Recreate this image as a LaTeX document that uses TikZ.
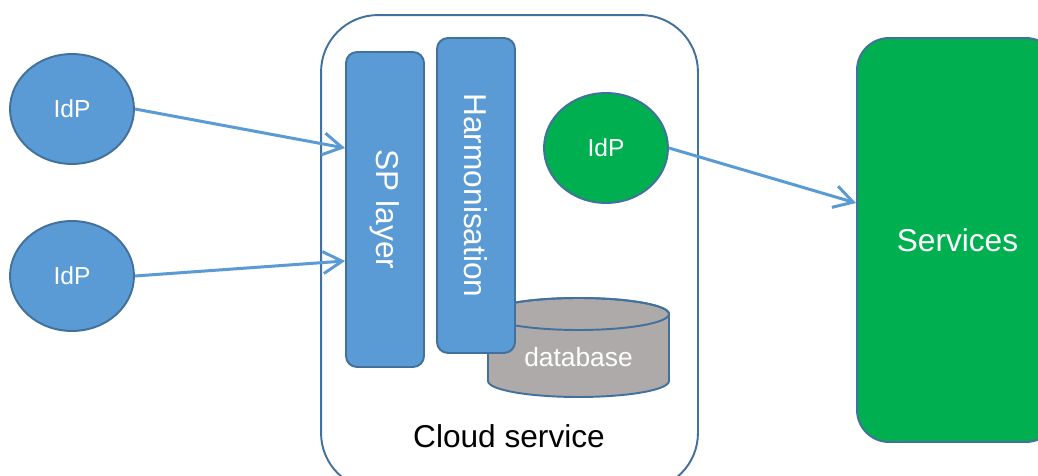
\documentclass[tikz,border=0pt]{standalone}
\usepackage{fontspec}
\setmainfont{Liberation Sans}
\usetikzlibrary{arrows.meta,shapes.geometric,positioning}
\definecolor{bfill}{HTML}{5B9BD5}
\definecolor{bline}{HTML}{41719C}
\definecolor{gfill}{HTML}{00B050}
\definecolor{dbfill}{HTML}{AEAAAA}
\tikzset{
  idp/.style={ellipse,draw=bline,fill=bfill,line width=1.1pt,text=white,font=\fontsize{14}{16}\selectfont,minimum width=2.48cm,minimum height=2.2cm,inner sep=0pt},
  gidp/.style={idp,fill=gfill},
  lay/.style={draw=bline,fill=bfill,line width=1.1pt,rounded corners=0.22cm,text=white,font=\fontsize{18}{20}\selectfont,minimum width=1.56cm,minimum height=6.3cm,inner sep=0pt},
  cloudbox/.style={draw=bline,line width=1.1pt,rounded corners=1.14cm,minimum width=7.54cm,minimum height=9.5cm,inner sep=0pt},
  svc/.style={cloudbox,fill=gfill,rounded corners=0.64cm,minimum width=4.02cm,minimum height=8.08cm,text=white,font=\fontsize{18}{20}\selectfont},
  arr/.style={-{Straight Barb[length=3.8mm,width=4.4mm]},line width=1.7pt,draw=bfill},
  lab/.style={font=\fontsize{18}{20}\selectfont,inner sep=0pt},
}
\begin{document}
\begin{tikzpicture}[x=0.02cm,y=-0.02cm]
\useasboundingbox[fill=white] (0,0) rectangle (1038,476);
% cloud service
\node[cloudbox] (cloud) at (509.5,252.5) {};
\node[lab] (cloudlab) at (509,436) {Cloud service};
% database
\path[draw=bline,fill=dbfill,line width=1.1pt] (488,314) -- (488,381)
  arc[start angle=180,end angle=360,x radius=1.81cm,y radius=0.32cm] -- (669,314)
  arc[start angle=0,end angle=180,x radius=1.81cm,y radius=0.32cm] -- cycle;
\draw[bline,line width=1.1pt] (578.5,314) ellipse[x radius=1.81cm,y radius=0.32cm];
\node[lab,text=white,font=\fontsize{15}{17}\selectfont] (db) at (578.5,357) {database};
% layers
\node[lay] (sp) at (385,209.5) {\rotatebox[origin=c]{-90}{SP layer}};
\node[lay] (harm) at (476,195.5) {\rotatebox[origin=c]{-90}{Harmonisation}};
\node[gidp] (idp3) at (606,148) {IdP};
% outside
\node[idp] (idp1) at (72,109) {IdP};
\node[idp] (idp2) at (72,276) {IdP};
\node[svc] (svc) at (957.5,240) {Services};
\draw[arr] (idp1.east) -- ([yshift=1.23cm]sp.west);
\draw[arr] (idp2.east) -- ([yshift=-1.03cm]sp.west);
\draw[arr] (idp3.east) -- ([yshift=0.74cm]svc.west);
\end{tikzpicture}
\end{document}
